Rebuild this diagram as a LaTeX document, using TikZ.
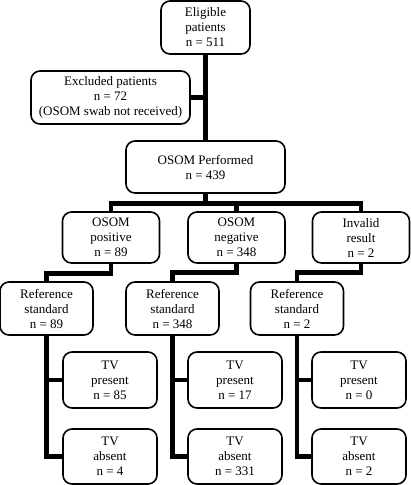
\documentclass[tikz,border=0pt]{standalone}
\usepackage{fontspec}
\setmainfont{Liberation Serif}
\usetikzlibrary{positioning}
\tikzset{
  box/.style={draw,line width=1.6pt,rounded corners=9pt,align=center,
    inner sep=0pt,font=\fontsize{13}{15}\selectfont},
  smallbox/.style={box,minimum width=97pt,minimum height=52pt},
  widebox/.style={box,minimum width=159pt,minimum height=53pt},
  link/.style={line width=4.8pt}
}
\begin{document}
\begin{tikzpicture}[x=1pt,y=-1pt]
    \useasboundingbox (0,0) rectangle (411,485);

    % Top of the chart
    \node[box,minimum width=89pt,minimum height=53pt] (elig) at (205.5,27.5) {Eligible\\patients\\n = 511};
    \node[widebox] (excl) at (110.5,97.5) {Excluded patients\\n = 72\\(OSOM swab not received)};
    \node[widebox,minimum height=52pt] (osom) at (205.5,167) {OSOM Performed\\n = 439};

    % OSOM results
    \node[smallbox,minimum height=51pt] (pos) at (111,237.5) {OSOM\\positive\\n = 89};
    \node[smallbox,minimum height=51pt] (neg) at (236.5,237.5) {OSOM\\negative\\n = 348};
    \node[smallbox,minimum height=51pt] (inv) at (361,237.5) {Invalid\\result\\n = 2};

    % Reference standard
    \node[smallbox,minimum width=93pt,minimum height=53pt] (ref1) at (46.5,308.5) {Reference\\standard\\n = 89};
    \node[smallbox,minimum width=93pt,minimum height=53pt] (ref2) at (172.5,308.5) {Reference\\standard\\n = 348};
    \node[smallbox,minimum width=93pt,minimum height=53pt] (ref3) at (297,308.5) {Reference\\standard\\n = 2};

    % TV present / absent
    \node[smallbox,minimum width=94pt,minimum height=56pt] (pre1) at (110,380) {TV\\present\\n = 85};
    \node[smallbox,minimum width=94pt,minimum height=56pt] (pre2) at (235,380) {TV\\present\\n = 17};
    \node[smallbox,minimum width=94pt,minimum height=56pt] (pre3) at (359,380) {TV\\present\\n = 0};
    \node[smallbox,minimum width=94pt,minimum height=55pt] (abs1) at (110,456.5) {TV\\absent\\n = 4};
    \node[smallbox,minimum width=94pt,minimum height=55pt] (abs2) at (235,456.5) {TV\\absent\\n = 331};
    \node[smallbox,minimum width=94pt,minimum height=55pt] (abs3) at (359,456.5) {TV\\absent\\n = 2};

    % Trunk and excluded branch
    \draw[link] (elig.south) -- (osom.north);
    \draw[link] (excl.east) -- (excl.east -| elig.south);

    % Split into results
    \draw[link] (osom.south) -- ++(0,10) -| (pos.north);
    \draw[link] (osom.south) ++(0,10) -| (neg.north);
    \draw[link] (osom.south) ++(0,10) -| (inv.north);

    % Results to reference standard
    \draw[link] (pos.south) -- ++(0,10) -| (ref1.north);
    \draw[link] (neg.south) -- ++(0,9) -| (ref2.north);
    \draw[link] (inv.south) -- ++(0,9) -| (ref3.north);

    % Reference standard to TV outcome
    \draw[link] (ref1.south) |- (abs1.west);
    \draw[link] (ref1.south |- pre1.west) -- (pre1.west);
    \draw[link] (ref2.south) |- (abs2.west);
    \draw[link] (ref2.south |- pre2.west) -- (pre2.west);
    \draw[link] (ref3.south) |- (abs3.west);
    \draw[link] (ref3.south |- pre3.west) -- (pre3.west);
\end{tikzpicture}
\end{document}
